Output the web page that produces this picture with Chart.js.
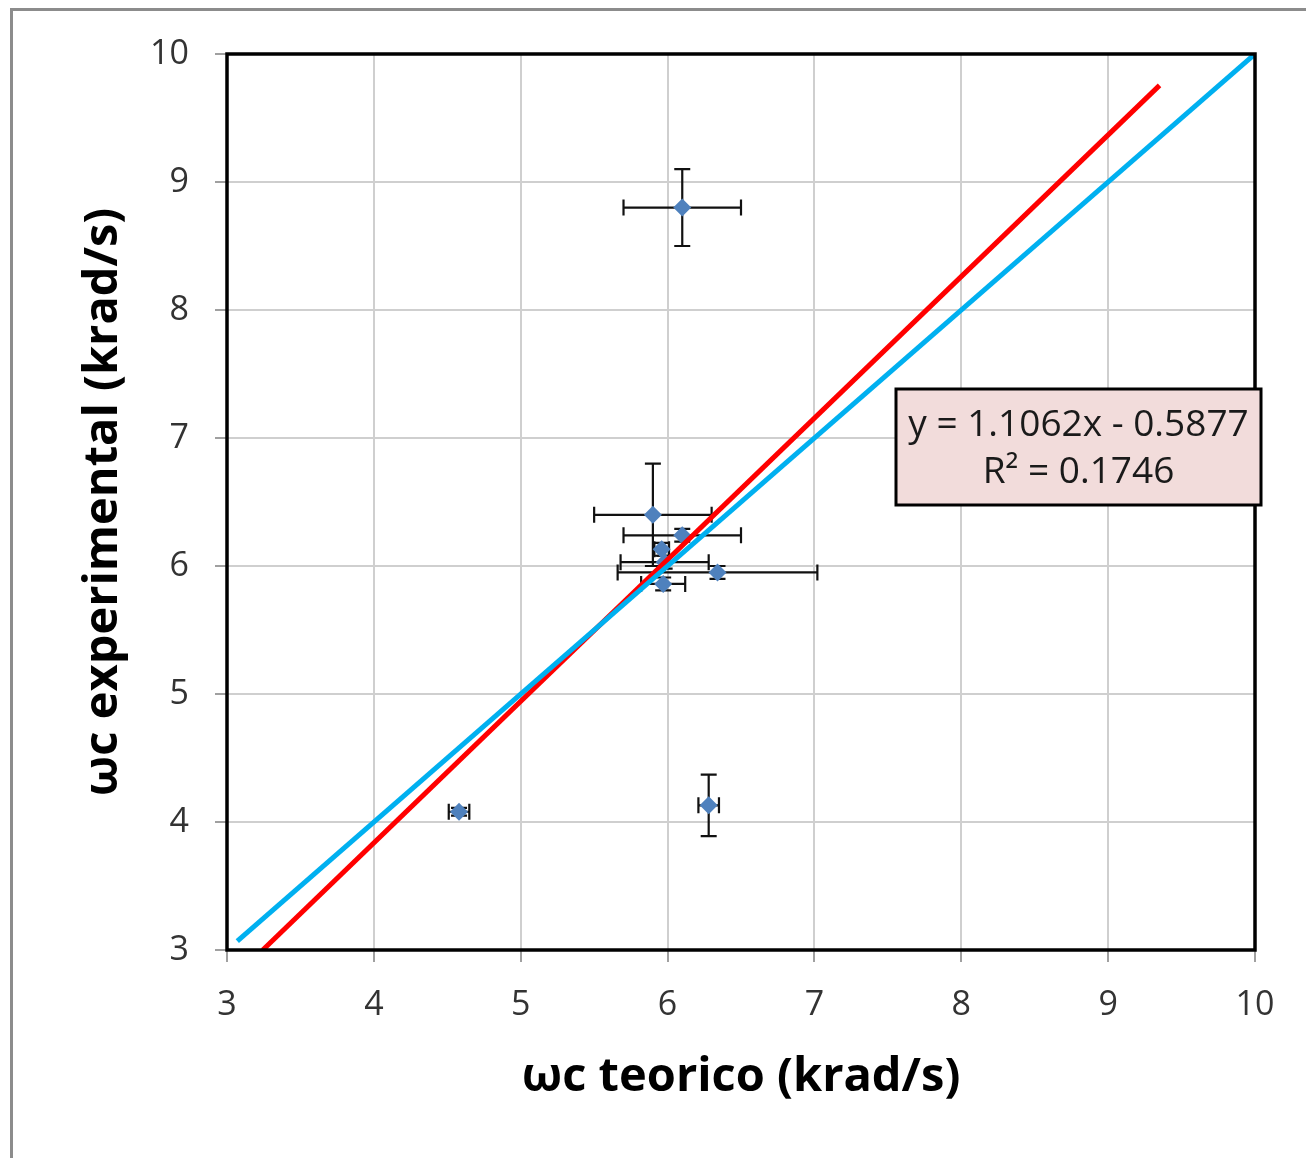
<!DOCTYPE html>
<html>
<head>
<meta charset="utf-8">
<script src="https://cdn.jsdelivr.net/npm/chart.js@4/dist/chart.umd.min.js"></script>
<style>
  body { margin: 0; background: #fff; }
  #grafic { position: absolute; left: 0; top: 0; }
</style>
</head>
<body>
<canvas id="grafic" width="1306" height="1158"></canvas>
<script>
// valores
const xTeorico = [5.90, 6.10, 6.10, 5.96, 5.98, 6.34, 5.97, 4.58, 6.28];
const yExperimental = [6.40, 8.80, 6.24, 6.13, 6.03, 5.95, 5.86, 4.08, 4.13];
const xError = [0.40, 0.40, 0.40, 0.05, 0.30, 0.68, 0.15, 0.07, 0.07];
const yError = [0.40, 0.30, 0.05, 0.05, 0.05, 0.05, 0.05, 0.03, 0.24];

const trendSlope = 1.1062;
const trendIntercept = -0.5877;
const trendR2 = 0.1746;
const trendRange = [3.2433, 9.35];
const identityRange = [3.07, 10];

const axisMin = 3;
const axisMax = 10;
const xTitle = "ωc teorico (krad/s)";
const yTitle = "ωc experimental (krad/s)";

let points = xTeorico.map((x, i) => ({ x: x, y: yExperimental[i] }));
let trendLine = trendRange.map(x => ({ x: x, y: trendSlope * x + trendIntercept }));
let identityLine = identityRange.map(x => ({ x: x, y: x }));

const bgPlugin = {
  id: "bg",
  beforeDraw(chart) {
    let ctx = chart.ctx;
    ctx.save();
    ctx.fillStyle = "#fff";
    ctx.fillRect(0, 0, chart.width, chart.height);
    ctx.strokeStyle = "#8c8c8c";
    ctx.lineWidth = 3;
    ctx.beginPath();
    ctx.moveTo(11.5, chart.height);
    ctx.lineTo(11.5, 9.5);
    ctx.lineTo(chart.width, 9.5);
    ctx.stroke();
    ctx.restore();
  }
};

const errorBars = {
  id: "errorBars",
  beforeDatasetsDraw(chart) {
    let ctx = chart.ctx;
    let xs = chart.scales.x, ys = chart.scales.y;
    let cap = 8;
    ctx.save();
    ctx.strokeStyle = "#111";
    ctx.lineWidth = 2.2;
    for (let i = 0; i < xTeorico.length; i++) {
      let px = xs.getPixelForValue(xTeorico[i]);
      let py = ys.getPixelForValue(yExperimental[i]);
      let x1 = xs.getPixelForValue(xTeorico[i] - xError[i]);
      let x2 = xs.getPixelForValue(xTeorico[i] + xError[i]);
      let y1 = ys.getPixelForValue(yExperimental[i] - yError[i]);
      let y2 = ys.getPixelForValue(yExperimental[i] + yError[i]);
      ctx.beginPath();
      ctx.moveTo(x1, py); ctx.lineTo(x2, py);
      ctx.moveTo(x1, py - cap); ctx.lineTo(x1, py + cap);
      ctx.moveTo(x2, py - cap); ctx.lineTo(x2, py + cap);
      ctx.moveTo(px, y1); ctx.lineTo(px, y2);
      ctx.moveTo(px - cap, y1); ctx.lineTo(px + cap, y1);
      ctx.moveTo(px - cap, y2); ctx.lineTo(px + cap, y2);
      ctx.stroke();
    }
    ctx.restore();
  }
};

const decorations = {
  id: "decorations",
  afterDraw(chart) {
    let ctx = chart.ctx;
    let a = chart.chartArea;
    ctx.save();
    // marco del area de trazado
    ctx.strokeStyle = "#000";
    ctx.lineWidth = 3.5;
    ctx.strokeRect(a.left, a.top, a.right - a.left, a.bottom - a.top);

    // titulos de los ejes
    ctx.fillStyle = "#000";
    ctx.font = "bold 47px 'Open Sans'";
    ctx.textAlign = "center";
    ctx.textBaseline = "middle";
    ctx.fillText(xTitle, 741, 1078);
    ctx.save();
    ctx.translate(104, 502);
    ctx.rotate(-Math.PI / 2);
    ctx.fillText(yTitle, 0, 0);
    ctx.restore();

    // etiqueta de la linea de tendencia
    let bx = 896, by = 389, bw = 365, bh = 116;
    ctx.fillStyle = "#f2dcdb";
    ctx.fillRect(bx, by, bw, bh);
    ctx.strokeStyle = "#000";
    ctx.lineWidth = 3;
    ctx.strokeRect(bx, by, bw, bh);
    ctx.fillStyle = "#1a1a1a";
    ctx.font = "37px 'Open Sans'";
    ctx.fillText("y = " + trendSlope.toFixed(4) + "x - " + Math.abs(trendIntercept).toFixed(4), bx + bw / 2, 425);
    ctx.fillText("R² = " + trendR2.toFixed(4), bx + bw / 2, 472);
    ctx.restore();
  }
};

let axisCommon = {
  type: "linear",
  min: axisMin,
  max: axisMax,
  border: { display: false },
  grid: { color: "#cfcfcf", lineWidth: 2, tickLength: 12, tickColor: "#a0a0a0" },
  ticks: { stepSize: 1, color: "#333", font: { family: "'Open Sans'", size: 34 } }
};

new Chart(document.getElementById("grafic").getContext("2d"), {
  type: "scatter",
  data: {
    datasets: [
      {
        label: "datos",
        data: points,
        pointStyle: "rectRot",
        pointRadius: 9,
        backgroundColor: "#4f81bd",
        borderColor: "#4f81bd",
        borderWidth: 0,
        order: 3
      },
      {
        label: "tendencia",
        type: "line",
        data: trendLine,
        borderColor: "#ff0000",
        borderWidth: 5,
        pointRadius: 0,
        fill: false,
        order: 2
      },
      {
        label: "y = x",
        type: "line",
        data: identityLine,
        borderColor: "#00b0f0",
        borderWidth: 5,
        pointRadius: 0,
        fill: false,
        order: 1
      }
    ]
  },
  options: {
    responsive: false,
    animation: false,
    layout: { padding: { left: 0, top: 54, right: 51, bottom: 0 } },
    plugins: { legend: { display: false }, tooltip: { enabled: false } },
    scales: {
      x: Object.assign({}, axisCommon, {
        ticks: Object.assign({}, axisCommon.ticks, { padding: 23 }),
        afterFit: function (scale) { scale.height = 208; }
      }),
      y: Object.assign({}, axisCommon, {
        ticks: Object.assign({}, axisCommon.ticks, { padding: 26 }),
        afterFit: function (scale) { scale.width = 227; }
      })
    }
  },
  plugins: [bgPlugin, errorBars, decorations]
});
</script>
</body>
</html>
